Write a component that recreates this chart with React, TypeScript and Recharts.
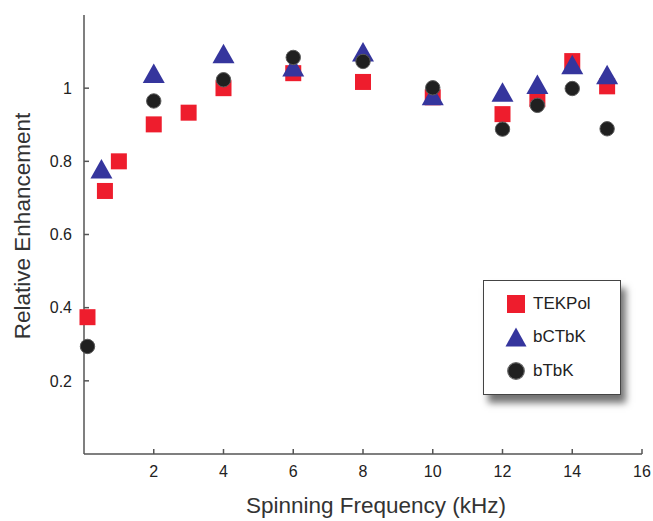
import { ScatterChart, Scatter, XAxis, YAxis, Legend, Label } from "recharts";

// spinning frequency (kHz) and relative enhancement
const tekpolFreq = [0.1, 0.6, 1, 2, 3, 4, 6, 8, 10, 12, 13, 14, 15];
const tekpolEnh = [0.374, 0.719, 0.8, 0.901, 0.933, 1.0, 1.041, 1.017, 0.975, 0.929, 0.97, 1.074, 1.005];

const bctbkFreq = [0.5, 2, 4, 6, 8, 10, 12, 13, 14, 15];
const bctbkEnh = [0.779, 1.04, 1.094, 1.058, 1.099, 0.979, 0.989, 1.01, 1.064, 1.037];

const btbkFreq = [0.1, 2, 4, 6, 8, 10, 12, 13, 14, 15];
const btbkEnh = [0.294, 0.965, 1.023, 1.084, 1.073, 1.001, 0.888, 0.953, 0.999, 0.889];

const xTicks = [2, 4, 6, 8, 10, 12, 14, 16];
const yTicks = [0.2, 0.4, 0.6, 0.8, 1];

const RED = "#ee1d2d";
const BLUE = "#35359d";
const BLACK = "#202020";
const font = '"Liberation Sans", Arial, Helvetica, sans-serif';

const toPoints = (xs: number[], ys: number[]) => xs.map((x, i) => ({ x, y: ys[i] }));

const tekpol = toPoints(tekpolFreq, tekpolEnh);
const bctbk = toPoints(bctbkFreq, bctbkEnh);
const btbk = toPoints(btbkFreq, btbkEnh);

function SquareMark(props: any) {
  const { cx, cy } = props;
  if (cx == null || cy == null) return null;
  return <rect x={cx - 8} y={cy - 8} width={16} height={16} fill={RED} />;
}

function TriangleMark(props: any) {
  const { cx, cy } = props;
  if (cx == null || cy == null) return null;
  const pts = `${cx},${cy - 10} ${cx - 11},${cy + 9.5} ${cx + 11},${cy + 9.5}`;
  return <polygon points={pts} fill={BLUE} />;
}

function DotMark(props: any) {
  const { cx, cy } = props;
  if (cx == null || cy == null) return null;
  return <circle cx={cx} cy={cy} r={7.2} fill={BLACK} stroke="#5a5a5a" strokeWidth={1} />;
}

const legendItems = [
  { name: "TEKPol", kind: "square" },
  { name: "bCTbK", kind: "triangle" },
  { name: "bTbK", kind: "circle" },
];

function LegendIcon({ kind }: { kind: string }) {
  return (
    <svg width={24} height={22} style={{ display: "block" }}>
      {kind === "square" && <rect x={3} y={2} width={18} height={18} fill={RED} />}
      {kind === "triangle" && <polygon points="12,1.5 1.5,20.5 22.5,20.5" fill={BLUE} />}
      {kind === "circle" && <circle cx={12} cy={11} r={8.3} fill={BLACK} stroke="#666" strokeWidth={1.2} />}
    </svg>
  );
}

function LegendBox() {
  return (
    <div
      style={{
        width: 138,
        height: 115,
        boxSizing: "border-box",
        border: "1.5px solid #444",
        background: "#fff",
        boxShadow: "5px 8px 7px rgba(0,0,0,0.55)",
        paddingTop: 6,
        fontFamily: font,
        fontSize: 17,
        color: "#222",
      }}
    >
      {legendItems.map((it) => (
        <div key={it.name} style={{ display: "flex", alignItems: "center", height: 33.5, paddingLeft: 20 }}>
          <LegendIcon kind={it.kind} />
          <span style={{ marginLeft: 5 }}>{it.name}</span>
        </div>
      ))}
    </div>
  );
}

export default function App() {
  return (
    <div style={{ position: "absolute", left: 0, top: 0, width: 653, height: 521, background: "#fff" }}>
      <ScatterChart width={653} height={521} margin={{ top: 15, right: 11, bottom: 0, left: 0 }}>
        <XAxis
          type="number"
          dataKey="x"
          domain={[0, 16]}
          ticks={xTicks}
          interval={0}
          height={67}
          tickSize={-5}
          tickMargin={17}
          stroke="#555"
          strokeWidth={1.5}
          tick={{ fill: "#222", fontSize: 16, fontFamily: font }}
        >
          <Label
            content={(p: any) => {
              const vb = p.viewBox || { x: 84, y: 454, width: 558, height: 67 };
              return (
                <text
                  x={vb.x + vb.width / 2 + 13}
                  y={vb.y + vb.height - 8}
                  textAnchor="middle"
                  fontFamily={font}
                  fontSize={22.5}
                  fill="#333"
                >
                  Spinning Frequency (kHz)
                </text>
              );
            }}
          />
        </XAxis>
        <YAxis
          type="number"
          dataKey="y"
          domain={[0, 1.2]}
          ticks={yTicks}
          interval={0}
          width={84}
          tickSize={-5}
          tickMargin={17}
          stroke="#555"
          strokeWidth={1.5}
          tickFormatter={(v: number) => String(v)}
          tick={{ fill: "#222", fontSize: 16, fontFamily: font }}
        >
          <Label
            content={(p: any) => {
              const vb = p.viewBox || { x: 0, y: 15, width: 84, height: 439 };
              const cx = 30;
              const cy = vb.y + vb.height / 2 - 8.5;
              return (
                <text
                  x={cx}
                  y={cy}
                  transform={`rotate(-90 ${cx} ${cy})`}
                  textAnchor="middle"
                  fontFamily={font}
                  fontSize={22.5}
                  fill="#333"
                >
                  Relative Enhancement
                </text>
              );
            }}
          />
        </YAxis>
        <Legend
          layout="vertical"
          align="center"
          verticalAlign="middle"
          content={() => <LegendBox />}
          wrapperStyle={{ left: 483, top: 280, width: 138, height: 115 }}
        />
        <Scatter name="TEKPol" data={tekpol} fill={RED} shape={SquareMark} isAnimationActive={false} />
        <Scatter name="bCTbK" data={bctbk} fill={BLUE} shape={TriangleMark} isAnimationActive={false} />
        <Scatter name="bTbK" data={btbk} fill={BLACK} shape={DotMark} isAnimationActive={false} />
      </ScatterChart>
    </div>
  );
}
